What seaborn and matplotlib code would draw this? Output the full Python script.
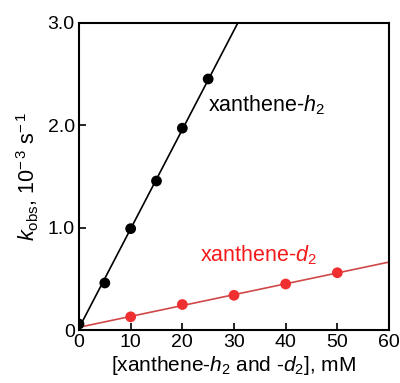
import numpy as np
import pandas as pd
import matplotlib
matplotlib.use("Agg")
import matplotlib.pyplot as plt
import seaborn as sns

# data
h2_conc = [0, 5, 10, 15, 20, 25]
h2_kobs = [0.06, 0.46, 0.99, 1.455, 1.97, 2.45]
d2_conc = [10, 20, 30, 40, 50]
d2_kobs = [0.13, 0.25, 0.34, 0.45, 0.56]
x_ticks = [0, 10, 20, 30, 40, 50, 60]
y_ticks = [0, 1.0, 2.0, 3.0]
y_ticklabels = ["0", "1.0", "2.0", "3.0"]

sns.set_style("ticks")
plt.rcParams['font.family'] = ['Liberation Sans', 'DejaVu Sans']
plt.rcParams['mathtext.fontset'] = 'custom'
plt.rcParams['mathtext.rm'] = 'Liberation Sans'
plt.rcParams['mathtext.it'] = 'Liberation Sans:italic'
plt.rcParams['text.color'] = 'black'
plt.rcParams['axes.labelcolor'] = 'black'
plt.rcParams['xtick.color'] = 'black'
plt.rcParams['ytick.color'] = 'black'

df_h = pd.DataFrame({"x": h2_conc, "y": h2_kobs})
df_d = pd.DataFrame({"x": d2_conc, "y": d2_kobs})

fig = plt.figure(figsize=(4.0, 3.83), dpi=100)
ax = fig.add_axes([0.1975, 0.138, 0.775, 0.803])
ax.set_xlim(0, 60)
ax.set_ylim(0, 3.0)

sns.regplot(data=df_d, x="x", y="y", ax=ax, ci=None, truncate=False,
            scatter_kws=dict(s=60, color="#f03030", edgecolor="none", alpha=1, zorder=3),
            line_kws=dict(color="#d04848", lw=1.2, zorder=2))
sns.regplot(data=df_h, x="x", y="y", ax=ax, ci=None, truncate=False,
            scatter_kws=dict(s=60, color="black", edgecolor="none", alpha=1, zorder=4),
            line_kws=dict(color="black", lw=1.2, zorder=2))
ax.set_xlim(0, 60)
ax.set_ylim(0, 3.0)

ax.set_xticks(x_ticks)
ax.set_yticks(y_ticks)
ax.set_yticklabels(y_ticklabels)
ax.tick_params(direction="in", length=5, width=1.2, labelsize=14, pad=3,
               colors="black")
for s in ax.spines.values():
    s.set_visible(True)
    s.set_linewidth(1.5)
    s.set_color("black")

ax.set_xlabel(r"[xanthene-$\it{h}_2$ and -$\it{d}_2$], mM", fontsize=15, labelpad=2)
ax.set_ylabel(r"$\it{k}_{\rm obs}$, 10$^{-\,3}$ s$^{-\,1}$", fontsize=15.5, labelpad=5)

ax.text(25.0, 2.19, r"xanthene-$\it{h}_2$", fontsize=15.5, color="black", va="center")
ax.text(23.4, 0.73, r"xanthene-$\it{d}_2$", fontsize=15.5, color="#f41a1a", va="center")

fig.savefig("out.png", dpi=100)
